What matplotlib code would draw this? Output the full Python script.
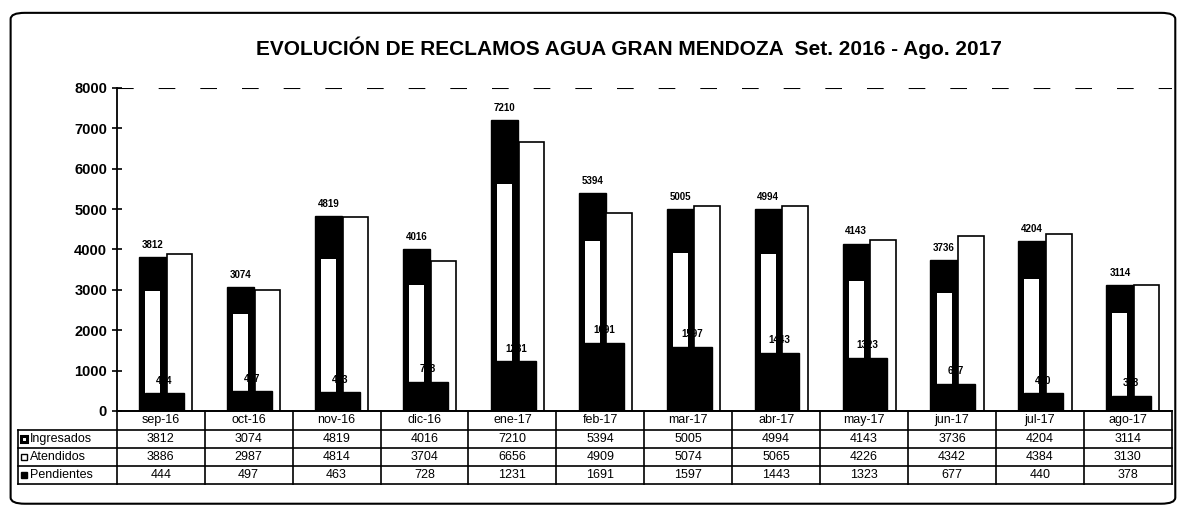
import numpy as np
import matplotlib.pyplot as plt
from matplotlib.patches import FancyBboxPatch

plt.rcParams['font.family'] = ['Liberation Sans', 'DejaVu Sans']

meses = ['sep-16', 'oct-16', 'nov-16', 'dic-16', 'ene-17', 'feb-17',
         'mar-17', 'abr-17', 'may-17', 'jun-17', 'jul-17', 'ago-17']
ingresados = [3812, 3074, 4819, 4016, 7210, 5394, 5005, 4994, 4143, 3736, 4204, 3114]
atendidos = [3886, 2987, 4814, 3704, 6656, 4909, 5074, 5065, 4226, 4342, 4384, 3130]
pendientes = [444, 497, 463, 728, 1231, 1691, 1597, 1443, 1323, 677, 440, 378]
series = ['Ingresados', 'Atendidos', 'Pendientes']

fig = plt.figure(figsize=(11.8, 5.14), dpi=100)
ax = fig.add_axes([0.099, 0.2004, 0.894, 0.6284])

x = np.arange(len(meses))
w_i = 0.31
w_a = 0.29
w_p = 0.45

# barras
ax.bar(x - 0.09, ingresados, w_i, color='black', edgecolor='black', zorder=2)
ax.bar(x - 0.09, np.array(ingresados) * 0.78, w_i * 0.55, color='white', zorder=2.5)
ax.bar(x + 0.215, atendidos, w_a, color='white', edgecolor='black', lw=1.2, zorder=2)
ax.bar(x + 0.04, pendientes, w_p, color='black', edgecolor='black', zorder=3)

for i in range(len(meses)):
    ax.text(x[i] - 0.09, ingresados[i] + 180, str(ingresados[i]), ha='center',
            va='bottom', fontsize=7, fontweight='bold')
    ax.text(x[i] + 0.04, pendientes[i] + 180, str(pendientes[i]), ha='center',
            va='bottom', fontsize=7, fontweight='bold', zorder=4)

ax.set_xlim(-0.5, len(meses) - 0.5)
ax.set_ylim(0, 8000)
ax.set_yticks(range(0, 8001, 1000))
ax.tick_params(axis='y', direction='inout', length=7, width=1.2, labelsize=10.5)
for t in ax.get_yticklabels():
    t.set_fontweight('bold')
ax.set_xticks([])
ax.spines['top'].set_visible(False)
ax.spines['right'].set_visible(False)
ax.spines['left'].set_linewidth(1.3)
ax.spines['bottom'].set_linewidth(1.3)
ax.axhline(8000, color='black', lw=1.5, ls=(0, (8, 12)), zorder=1)

# tabla de datos
filas = [0, -0.0588, -0.1146, -0.1703, -0.226]
xl = -0.094
blend = ax.get_xaxis_transform()
for k, yy in enumerate(filas):
    x0 = xl if k > 0 else 0
    ax.plot([x0, 1], [yy, yy], color='black', lw=1.2, transform=ax.transAxes, clip_on=False)
for b in np.arange(-0.5, len(meses) + 0.5, 1.0):
    ax.plot([b, b], [filas[0], filas[-1]], color='black', lw=1.2, transform=blend, clip_on=False)
ax.plot([xl, xl], [filas[1], filas[-1]], color='black', lw=1.2, transform=ax.transAxes, clip_on=False)

for i, m in enumerate(meses):
    ax.text(x[i], (filas[0] + filas[1]) / 2, m, ha='center', va='center',
            fontsize=9, transform=blend)
    for r, vals in enumerate([ingresados, atendidos, pendientes]):
        ax.text(x[i], (filas[r + 1] + filas[r + 2]) / 2, str(vals[i]), ha='center',
                va='center', fontsize=9, transform=blend)

claves = [dict(mfc='white', mec='black', mew=2.2),
          dict(mfc='white', mec='black', mew=1.0),
          dict(mfc='black', mec='black', mew=1.0)]
for r, nombre in enumerate(series):
    yc = (filas[r + 1] + filas[r + 2]) / 2
    ax.plot([xl + 0.006], [yc], marker='s', ms=5, transform=ax.transAxes,
            clip_on=False, **claves[r])
    ax.text(xl + 0.012, yc, nombre, ha='left', va='center', fontsize=9,
            transform=ax.transAxes)

fig.text(0.533, 0.908, 'EVOLUCIÓN DE RECLAMOS AGUA GRAN MENDOZA  Set. 2016 - Ago. 2017',
         ha='center', va='center', fontsize=15, fontweight='bold')

borde = FancyBboxPatch((0.009, 0.02), 0.987, 0.955, boxstyle='round,pad=0,rounding_size=0.012',
                       transform=fig.transFigure, fill=False, edgecolor='black', lw=1.5)
fig.patches.append(borde)

fig.savefig('out.png', dpi=100, facecolor='white')
